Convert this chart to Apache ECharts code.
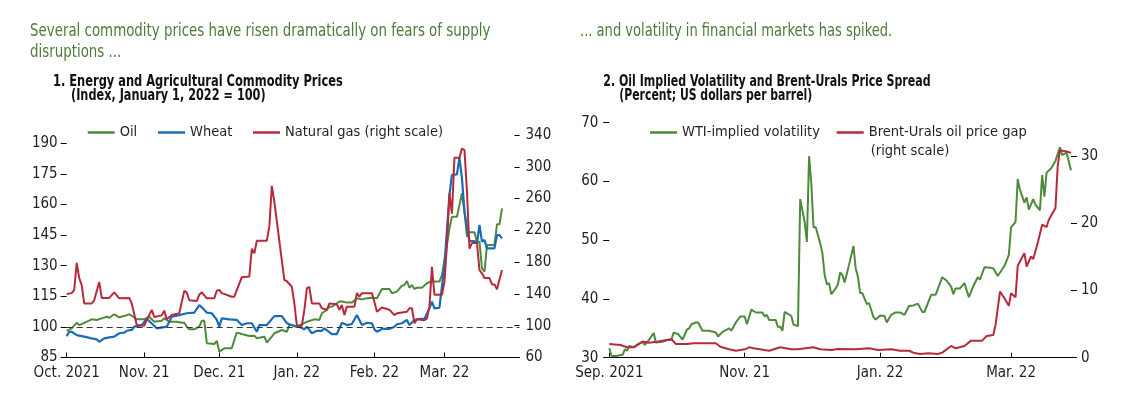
<!DOCTYPE html>
<html><head><meta charset="utf-8">
<script src="https://cdn.jsdelivr.net/npm/echarts@6/dist/echarts.min.js"></script>
<style>html,body{margin:0;padding:0;background:#fff}#c{width:1137px;height:400px}</style>
</head><body><div id="c"></div>
<script>
// ---------- Panel 1 data ----------
const oilDates = ['2021-10-01','2021-10-03','2021-10-05','2021-10-06','2021-10-08','2021-10-11','2021-10-13','2021-10-15','2021-10-17','2021-10-18','2021-10-20','2021-10-22','2021-10-24','2021-10-26','2021-10-28','2021-10-29','2021-11-01','2021-11-03','2021-11-05','2021-11-08','2021-11-09','2021-11-11','2021-11-14','2021-11-16','2021-11-17','2021-11-18','2021-11-19','2021-11-21','2021-11-23','2021-11-24','2021-11-25','2021-11-26','2021-11-29','2021-11-30','2021-12-01','2021-12-03','2021-12-06','2021-12-07','2021-12-08','2021-12-10','2021-12-13','2021-12-15','2021-12-16','2021-12-19','2021-12-20','2021-12-22','2021-12-23','2021-12-26','2021-12-28','2021-12-29','2021-12-30','2022-01-01','2022-01-03','2022-01-05','2022-01-08','2022-01-10','2022-01-11','2022-01-13','2022-01-14','2022-01-15','2022-01-17','2022-01-18','2022-01-19','2022-01-21','2022-01-23','2022-01-25','2022-01-27','2022-01-29','2022-01-31','2022-02-02','2022-02-04','2022-02-07','2022-02-08','2022-02-10','2022-02-12','2022-02-13','2022-02-14','2022-02-15','2022-02-16','2022-02-17','2022-02-18','2022-02-20','2022-02-22','2022-02-24','2022-02-25','2022-02-27','2022-02-28','2022-03-02','2022-03-03','2022-03-04','2022-03-06','2022-03-08','2022-03-09','2022-03-10','2022-03-11','2022-03-13','2022-03-14','2022-03-15','2022-03-16','2022-03-17','2022-03-18','2022-03-21','2022-03-22','2022-03-23','2022-03-24'];
const oilValues = [98.1,99.3,102,100.9,102,103.7,103.4,104.2,105,104.5,106.2,104.7,105.3,106.2,104.7,103.7,103.7,105,102.5,103,104.2,102.5,102.5,102,102,100.1,98.8,98.8,100.1,103,103,92,91.6,93.2,87.8,89.5,89.5,93.6,97.2,96.5,95.5,95.7,94.4,95.2,92.3,95.2,96.9,98.5,97.6,100.9,100.9,100.1,101.4,102.5,103.7,103.4,106.7,108.3,109.9,109.9,111.6,112.4,112.4,111.9,111.9,114,113.5,114,114.3,114,118.6,118.6,116.5,117.3,120.2,120.5,122.5,119.2,120.5,118.6,119.2,119.2,121.4,122.5,122.2,122.2,125.4,140.1,148.3,154,154,165.5,156.5,144.2,146.4,146.4,141.8,141.8,128.7,127.1,140.1,140.1,150.3,150.3,158.1];

const wheatDates = ['2021-10-01','2021-10-02','2021-10-03','2021-10-05','2021-10-08','2021-10-11','2021-10-13','2021-10-14','2021-10-16','2021-10-18','2021-10-20','2021-10-22','2021-10-24','2021-10-25','2021-10-27','2021-10-28','2021-10-31','2021-11-02','2021-11-06','2021-11-10','2021-11-12','2021-11-15','2021-11-18','2021-11-21','2021-11-23','2021-11-24','2021-11-26','2021-11-28','2021-11-30','2021-12-01','2021-12-02','2021-12-05','2021-12-08','2021-12-10','2021-12-12','2021-12-14','2021-12-16','2021-12-17','2021-12-20','2021-12-23','2021-12-26','2021-12-28','2021-12-31','2022-01-02','2022-01-04','2022-01-05','2022-01-07','2022-01-09','2022-01-11','2022-01-12','2022-01-15','2022-01-17','2022-01-19','2022-01-21','2022-01-23','2022-01-25','2022-01-27','2022-01-29','2022-01-31','2022-02-01','2022-02-02','2022-02-04','2022-02-07','2022-02-09','2022-02-10','2022-02-12','2022-02-14','2022-02-15','2022-02-17','2022-02-19','2022-02-21','2022-02-23','2022-02-24','2022-02-25','2022-02-27','2022-03-01','2022-03-03','2022-03-04','2022-03-06','2022-03-07','2022-03-08','2022-03-09','2022-03-11','2022-03-13','2022-03-14','2022-03-15','2022-03-16','2022-03-17','2022-03-18','2022-03-21','2022-03-22','2022-03-23','2022-03-24'];
const wheatValues = [95.5,97.6,97.6,96,95.2,94.4,93.9,92.7,94.4,94.9,95.2,96.9,97.2,98.1,98.5,100.1,100.9,104,99.3,100.1,105,105.8,106.7,107,110.7,109.6,107,106.7,103.4,100.1,104.2,103.7,103.4,100.9,101.8,101.8,97.6,100.9,100.9,105.3,105.3,101.8,100.4,100.1,98.8,100.1,96.9,98.1,98.1,99.3,96.5,96.5,102,100.9,101.4,105.8,100.9,102,101.8,98.8,97.6,99,99,100.1,101.3,101.8,103.4,100.9,103.4,103.9,103.9,109.1,112.4,109.1,109.4,130.3,164.7,174.5,174.8,183,172.8,156.5,142.1,142.1,141,150,141.8,142.6,138.5,138.5,145,145,143.4];

const gasDates = ['2021-10-01','2021-10-03','2021-10-04','2021-10-05','2021-10-06','2021-10-07','2021-10-08','2021-10-11','2021-10-12','2021-10-14','2021-10-15','2021-10-18','2021-10-20','2021-10-22','2021-10-26','2021-10-27','2021-10-29','2021-11-01','2021-11-02','2021-11-04','2021-11-05','2021-11-08','2021-11-09','2021-11-10','2021-11-12','2021-11-15','2021-11-17','2021-11-18','2021-11-19','2021-11-22','2021-11-23','2021-11-24','2021-11-26','2021-11-29','2021-11-30','2021-12-01','2021-12-02','2021-12-06','2021-12-07','2021-12-09','2021-12-10','2021-12-13','2021-12-14','2021-12-15','2021-12-16','2021-12-20','2021-12-21','2021-12-22','2021-12-23','2021-12-27','2021-12-28','2021-12-30','2021-12-31','2022-01-01','2022-01-03','2022-01-04','2022-01-05','2022-01-06','2022-01-07','2022-01-10','2022-01-11','2022-01-13','2022-01-14','2022-01-17','2022-01-18','2022-01-19','2022-01-20','2022-01-21','2022-01-24','2022-01-25','2022-01-26','2022-01-27','2022-01-31','2022-02-01','2022-02-02','2022-02-04','2022-02-07','2022-02-09','2022-02-10','2022-02-14','2022-02-15','2022-02-16','2022-02-17','2022-02-18','2022-02-21','2022-02-22','2022-02-23','2022-02-24','2022-02-25','2022-02-28','2022-03-01','2022-03-02','2022-03-03','2022-03-04','2022-03-05','2022-03-07','2022-03-08','2022-03-09','2022-03-10','2022-03-11','2022-03-12','2022-03-14','2022-03-15','2022-03-16','2022-03-17','2022-03-19','2022-03-20','2022-03-21','2022-03-22','2022-03-24'];
const gasValues = [140,141,145,179,160,151,128,128,132,155,135,135,142,134.5,135,128,101,100,107,120,111,113,119,108,113.5,115.6,144,141.6,132,131,139,142,134.5,134.5,144,145,141,136.5,136.5,153,161,162,197,191,207,207,225,276,256,157.5,156,149,128,100,100,120,147,149,128,128,122,120,128,127,120,126,113.5,124,124,141,136.5,141,141,130,117.6,123,120,113.5,115.6,117.6,122,122,103,108,107,109,124,174,139,139,155,202,267,241,311.5,311.5,323,321,269,197,204,204,170,166,160,160,152,152,146,170];

const p1LeftTicks = [85,100,115,130,145,160,175,190];
const p1RightTicks = [60,100,140,180,220,260,300,340];
const p1MonthTicks = ['2021-10-01','2021-11-01','2021-12-01','2022-01-01','2022-02-01','2022-03-01'];
const p1MonthLabels = ['Oct. 2021','Nov. 21','Dec. 21','Jan. 22','Feb. 22','Mar. 22'];

// ---------- Panel 2 data ----------
const wtiDates = ['2021-09-01','2021-09-02','2021-09-04','2021-09-07','2021-09-08','2021-09-09','2021-09-10','2021-09-12','2021-09-14','2021-09-16','2021-09-17','2021-09-19','2021-09-21','2021-09-22','2021-09-25','2021-09-27','2021-09-29','2021-09-30','2021-10-02','2021-10-04','2021-10-06','2021-10-07','2021-10-08','2021-10-10','2021-10-11','2021-10-13','2021-10-16','2021-10-19','2021-10-20','2021-10-22','2021-10-25','2021-10-26','2021-10-28','2021-10-30','2021-11-01','2021-11-02','2021-11-04','2021-11-06','2021-11-09','2021-11-10','2021-11-11','2021-11-12','2021-11-15','2021-11-16','2021-11-17','2021-11-18','2021-11-19','2021-11-22','2021-11-23','2021-11-25','2021-11-26','2021-11-28','2021-11-29','2021-11-30','2021-12-01','2021-12-02','2021-12-03','2021-12-05','2021-12-06','2021-12-07','2021-12-08','2021-12-09','2021-12-10','2021-12-12','2021-12-13','2021-12-14','2021-12-15','2021-12-16','2021-12-18','2021-12-20','2021-12-21','2021-12-22','2021-12-23','2021-12-24','2021-12-26','2021-12-27','2021-12-29','2021-12-30','2022-01-01','2022-01-03','2022-01-04','2022-01-06','2022-01-08','2022-01-10','2022-01-12','2022-01-14','2022-01-16','2022-01-18','2022-01-20','2022-01-21','2022-01-24','2022-01-26','2022-01-29','2022-01-31','2022-02-02','2022-02-03','2022-02-04','2022-02-06','2022-02-08','2022-02-10','2022-02-12','2022-02-14','2022-02-15','2022-02-17','2022-02-20','2022-02-21','2022-02-23','2022-02-26','2022-02-28','2022-03-01','2022-03-03','2022-03-04','2022-03-05','2022-03-07','2022-03-08','2022-03-09','2022-03-11','2022-03-12','2022-03-14','2022-03-15','2022-03-16','2022-03-17','2022-03-19','2022-03-21','2022-03-23','2022-03-24','2022-03-26','2022-03-28'];
const wtiValues = [31.6,30.3,30.3,30.5,31.4,31.2,32,31.8,32.3,32.7,32.2,33.1,34.2,32.6,32.7,33,33.1,34.3,34,33.1,34.8,35,35.7,36,36,34.6,34.6,34.3,33.6,34.4,35,34.6,36,37,37,35.7,38.2,37.7,37.7,37,37.3,36.4,36.4,35.2,35.3,34.6,37.8,37.1,35.6,35.4,57,53.1,49.7,64.3,59.7,52.2,52.2,49.5,47.8,44.1,42.5,42.7,40.8,41.8,42.5,44.5,44.1,42.8,45.8,49,45.2,43.8,41,41,39.1,39.3,36.9,36.5,37.2,37.1,36,37.3,37.7,37.7,37.3,38.8,38.9,39.2,37.8,37.8,40.7,40.7,43.7,43.1,42.1,40.8,41.8,41.8,42.7,40.3,42.2,43.7,43.3,45.4,45.3,45.2,43.9,45.6,47.5,52.2,53.1,60.4,58.6,56.4,57.3,55.2,57,56,55.1,61.1,57.4,61.5,62.2,63.5,65.8,64.5,64.9,61.9];

const gapDates = ['2021-09-01','2021-09-06','2021-09-09','2021-09-12','2021-09-16','2021-09-19','2021-09-23','2021-09-27','2021-09-29','2021-10-01','2021-10-06','2021-10-09','2021-10-19','2021-10-21','2021-10-25','2021-10-28','2021-11-01','2021-11-03','2021-11-05','2021-11-12','2021-11-17','2021-11-22','2021-11-25','2021-12-02','2021-12-05','2021-12-10','2021-12-13','2021-12-21','2021-12-27','2021-12-31','2022-01-06','2022-01-10','2022-01-14','2022-01-16','2022-01-19','2022-01-23','2022-01-27','2022-01-29','2022-02-02','2022-02-04','2022-02-08','2022-02-11','2022-02-16','2022-02-18','2022-02-21','2022-02-22','2022-02-24','2022-02-26','2022-02-28','2022-03-01','2022-03-03','2022-03-04','2022-03-07','2022-03-08','2022-03-10','2022-03-11','2022-03-13','2022-03-15','2022-03-17','2022-03-18','2022-03-21','2022-03-22','2022-03-23','2022-03-26','2022-03-28'];
const gapValues = [2.04,1.9,1.55,1.55,2.4,2.24,2.4,2.64,2.75,2.04,2.04,2.15,2.15,1.64,1.25,1.04,1.25,1.55,1.4,1.04,1.55,1.25,1.25,1.55,1.25,1.15,1.3,1.25,1.4,1.15,1.25,1.04,1.04,0.75,0.55,0.66,0.55,0.75,1.75,1.4,1.75,2.54,2.54,3.24,3.39,4.88,9.85,8.87,7.72,9.61,9.01,13.69,15.58,13.58,15.07,14.69,17.07,19.81,19.46,20.55,22.3,28.5,30.9,30.7,30.5];

const p2LeftTicks = [30,40,50,60,70];
const p2RightTicks = [0,10,20,30];
const p2MonthTicks = ['2021-09-01','2021-11-01','2022-01-01','2022-03-01'];
const p2MonthLabels = ['Sep. 2021','Nov. 21','Jan. 22','Mar. 22'];

// ---------- rendering ----------
const FONT = "'DejaVu Sans Condensed','Liberation Sans Narrow',sans-serif";
const GREEN = '#4f8a3c', BLUE = '#1a6cb6', RED = '#b72a3c', TXT = '#231f20', HEAD = '#4e7a3a';

function ts(s){ const p = s.split('-').map(Number); return new Date(p[0], p[1]-1, p[2]).getTime(); }
function zip(d, v){ return d.map((x,i)=>[ts(x), v[i]]); }
function monthFormatter(ticks, labels){
  const tv = ticks.map(ts);
  return function(v){
    let best = -1, bd = Infinity;
    tv.forEach((t,i)=>{ const d = Math.abs(t - v); if (d < bd){ bd = d; best = i; } });
    return (best >= 0 && bd < 86400000) ? labels[best] : '';
  };
}
const axisText = {color: TXT, fontFamily: FONT, fontSize: 15};

function xAxisDef(grid, min, max, ticks, labels){
  return {
    type: 'value', gridIndex: grid, min: ts(min), max: ts(max),
    axisLine: {show: true, onZero: false, lineStyle: {color: '#000', width: 1}},
    axisTick: {show: true, inside: true, length: 5, lineStyle: {color: '#000'}, customValues: ticks.map(ts)},
    axisLabel: Object.assign({margin: 8, customValues: ticks.map(ts), formatter: monthFormatter(ticks, labels), hideOverlap: false}, axisText),
    splitLine: {show: false}
  };
}
function yAxisDef(grid, pos, min, max, ticks, inside, len, margin){
  return {
    type: 'value', gridIndex: grid, position: pos, min: min, max: max,
    axisLine: {show: false},
    axisTick: {show: true, inside: inside, length: len, lineStyle: {color: '#000'}, customValues: ticks},
    axisLabel: Object.assign({margin: margin, customValues: ticks}, axisText),
    splitLine: {show: false}
  };
}
function legendAt(x, name){
  return {left: x, top: 125, padding: 0, itemWidth: 27, itemHeight: 2.5, icon: 'rect', data: [name],
          textStyle: {color: TXT, fontFamily: FONT, fontSize: 14.5}};
}
function txt(x, y, s, fill, font, sx){
  return {type: 'text', x: x, y: y, scaleX: sx, style: {text: s, fill: fill, font: font, verticalAlign: 'middle'}};
}

const chart = echarts.init(document.getElementById('c'), null, {renderer: 'canvas'});
const lineBase = {type: 'line', showSymbol: false, symbol: 'none', animation: false};
const HEADF = "17px " + FONT, TITF = "bold 15.5px " + FONT;

chart.setOption({
  animation: false,
  grid: [
    {left: 66.7, top: 135, width: 452.8, height: 222.5},
    {left: 609.3, top: 122.7, width: 461.7, height: 235}
  ],
  xAxis: [
    xAxisDef(0, '2021-10-01', '2022-03-31', p1MonthTicks, p1MonthLabels),
    xAxisDef(1, '2021-09-01', '2022-03-28', p2MonthTicks, p2MonthLabels)
  ],
  yAxis: [
    yAxisDef(0, 'left', 85, 85 + 222.5/2.04, p1LeftTicks, false, 6, 9),
    yAxisDef(0, 'right', 60, 340, p1RightTicks, true, 5, 6),
    yAxisDef(1, 'left', 30, 70, p2LeftTicks, false, 6, 11),
    yAxisDef(1, 'right', 0, 35, p2RightTicks, false, 6, 10)
  ],
  legend: [
    legendAt(87.7, 'Oil'),
    legendAt(158, 'Wheat'),
    legendAt(253, 'Natural gas (right scale)'),
    legendAt(650, 'WTI-implied volatility'),
    legendAt(836.7, 'Brent-Urals oil price gap')
  ],
  graphic: [
    txt(30, 31.5, 'Several commodity prices have risen dramatically on fears of supply', HEAD, HEADF, 0.875),
    txt(30, 53, 'disruptions ...', HEAD, HEADF, 0.875),
    txt(53, 81.7, '1. Energy and Agricultural Commodity Prices', '#111', TITF, 0.82),
    txt(71, 95.5, '(Index, January 1, 2022 = 100)', '#111', TITF, 0.81),
    txt(580, 31.5, '... and volatility in financial markets has spiked.', HEAD, HEADF, 0.855),
    txt(603.3, 81.7, '2. Oil Implied Volatility and Brent-Urals Price Spread', '#111', TITF, 0.79),
    txt(619.3, 95.5, '(Percent; US dollars per barrel)', '#111', TITF, 0.78),
    txt(870.7, 151.7, '(right scale)', TXT, "14.5px " + FONT, 1)
  ],
  series: [
    Object.assign({}, lineBase, {name: 'Oil', xAxisIndex: 0, yAxisIndex: 0, data: zip(oilDates, oilValues),
      lineStyle: {color: GREEN, width: 2}, itemStyle: {color: GREEN},
      markLine: {silent: true, symbol: 'none', label: {show: false},
        lineStyle: {color: '#333', width: 1, type: [6,4]}, data: [{yAxis: 100}]}}),
    Object.assign({}, lineBase, {name: 'Wheat', xAxisIndex: 0, yAxisIndex: 0, data: zip(wheatDates, wheatValues),
      lineStyle: {color: BLUE, width: 2.2}, itemStyle: {color: BLUE}}),
    Object.assign({}, lineBase, {name: 'Natural gas (right scale)', xAxisIndex: 0, yAxisIndex: 1, data: zip(gasDates, gasValues),
      lineStyle: {color: RED, width: 2}, itemStyle: {color: RED}}),
    Object.assign({}, lineBase, {name: 'WTI-implied volatility', xAxisIndex: 1, yAxisIndex: 2, data: zip(wtiDates, wtiValues),
      lineStyle: {color: GREEN, width: 2}, itemStyle: {color: GREEN}}),
    Object.assign({}, lineBase, {name: 'Brent-Urals oil price gap', xAxisIndex: 1, yAxisIndex: 3, data: zip(gapDates, gapValues),
      lineStyle: {color: RED, width: 2}, itemStyle: {color: RED}})
  ]
});
</script></body></html>
